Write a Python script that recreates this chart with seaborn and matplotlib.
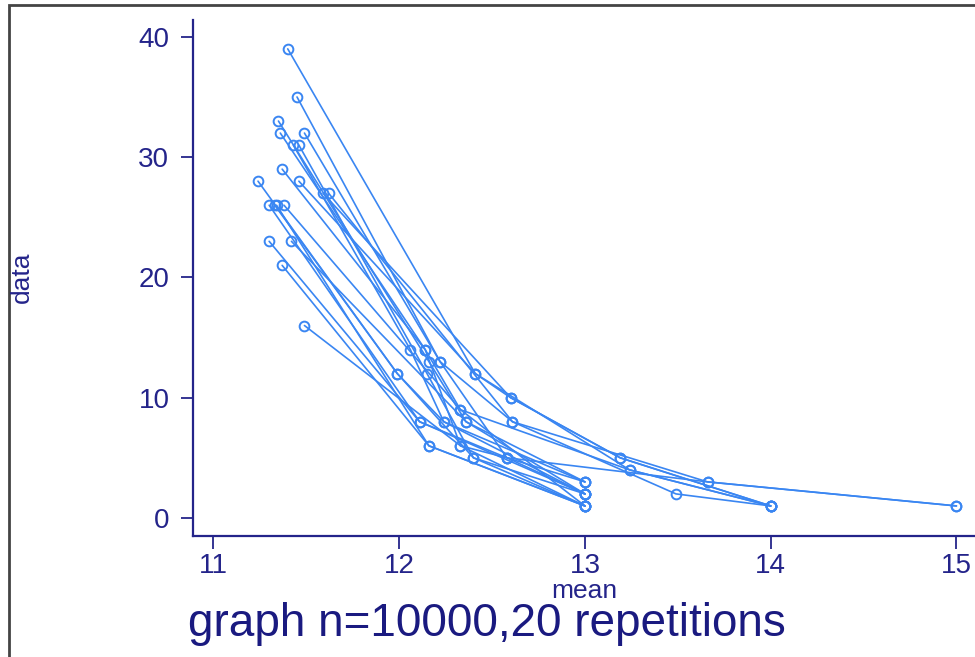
import pandas as pd
import seaborn as sns
import matplotlib.pyplot as plt
from matplotlib.patches import Rectangle

# each repetition: the x values (mean) and y values (data) of its points
rep_means = [
    [11.40, 12.41, 12.60, 13.19, 14.0],
    [11.45, 12.22, 12.61, 13.66, 15.0],
    [11.35, 12.16, 12.36, 13.0],
    [11.36, 12.14, 12.33, 13.0],
    [11.49, 12.22, 12.58, 13.0],
    [11.46, 12.15, 12.40, 13.0],
    [11.43, 12.06, 12.24, 13.0],
    [11.37, 12.14, 12.33, 13.0],
    [11.46, 12.41, 13.24, 14.0],
    [11.24, 11.99, 12.24, 13.0],
    [11.59, 12.60, 13.19, 14.0],
    [11.62, 12.61, 13.49, 14.0],
    [11.30, 12.11, 12.58, 13.0],
    [11.34, 12.16, 13.0],
    [11.38, 12.33, 13.24, 14.0],
    [11.30, 12.11, 13.0],
    [11.42, 12.36, 13.0],
    [11.37, 12.16, 13.0],
    [11.49, 12.33, 12.58, 13.66, 15.0],
    [11.33, 11.99, 12.40, 13.0],
]
rep_data = [
    [39, 12, 10, 5, 1],
    [35, 13, 8, 3, 1],
    [33, 13, 8, 2],
    [32, 14, 9, 1],
    [32, 13, 5, 3],
    [31, 12, 5, 1],
    [31, 14, 8, 2],
    [29, 14, 6, 1],
    [28, 12, 4, 1],
    [28, 12, 8, 3],
    [27, 10, 5, 1],
    [27, 8, 2, 1],
    [26, 8, 5, 2],
    [26, 6, 1],
    [26, 9, 4, 1],
    [23, 8, 2],
    [23, 8, 3],
    [21, 6, 1],
    [16, 6, 5, 3, 1],
    [26, 12, 5, 2],
]
x_ticks = [11, 12, 13, 14, 15]
y_ticks = [0, 10, 20, 30, 40]

rows = []
for i, (ms, ds) in enumerate(zip(rep_means, rep_data)):
    for m, d in zip(ms, ds):
        rows.append({'rep': i, 'mean': m, 'data': d})
df = pd.DataFrame(rows)

sns.set_style('white')
plt.rcParams['font.family'] = ['Liberation Sans', 'DejaVu Sans']

navy = '#24248a'
blue = '#3a86f2'

fig = plt.figure(figsize=(9.75, 6.57), dpi=100)
ax = fig.add_axes([193 / 975, 121 / 657, 782 / 975, 516 / 657])

sns.lineplot(data=df, x='mean', y='data', units='rep', estimator=None, sort=False,
             color=blue, linewidth=1.2, marker='o', markersize=7,
             markerfacecolor='none', markeredgecolor=blue, markeredgewidth=1.4,
             ax=ax, legend=False)

ax.set_xlim(10.89, 15.1)
ax.set_ylim(-1.5, 41.4)
ax.set_xticks(x_ticks)
ax.set_yticks(y_ticks)
for side in ['top', 'right']:
    ax.spines[side].set_visible(False)
for side in ['left', 'bottom']:
    ax.spines[side].set_color(navy)
    ax.spines[side].set_linewidth(1.6)
ax.tick_params(colors=navy, labelsize=20, length=9, width=1.3, direction='out',
               left=True, bottom=True)
ax.tick_params(axis='x', pad=3)
ax.tick_params(axis='y', pad=8)
ax.set_xlabel('')
ax.set_ylabel('')

fig.text(584 / 975, 1 - 591 / 657, 'mean', fontsize=19, color=navy,
         ha='center', va='center')
fig.text(22 / 975, 1 - 277 / 657, 'data', rotation=90, fontsize=19, color=navy,
         ha='center', va='center')
fig.text(188 / 975, 1 - 624 / 657, 'graph n=10000,20 repetitions', fontsize=33,
         color='#1a1a80', ha='left', va='center')

# outer frame
fig.patches.append(Rectangle((9 / 975, -0.05), 1.1, 1 - 5 / 657 + 0.05,
                             transform=fig.transFigure, fill=False,
                             edgecolor='#444444', linewidth=2))

fig.savefig('out.png', dpi=100)
